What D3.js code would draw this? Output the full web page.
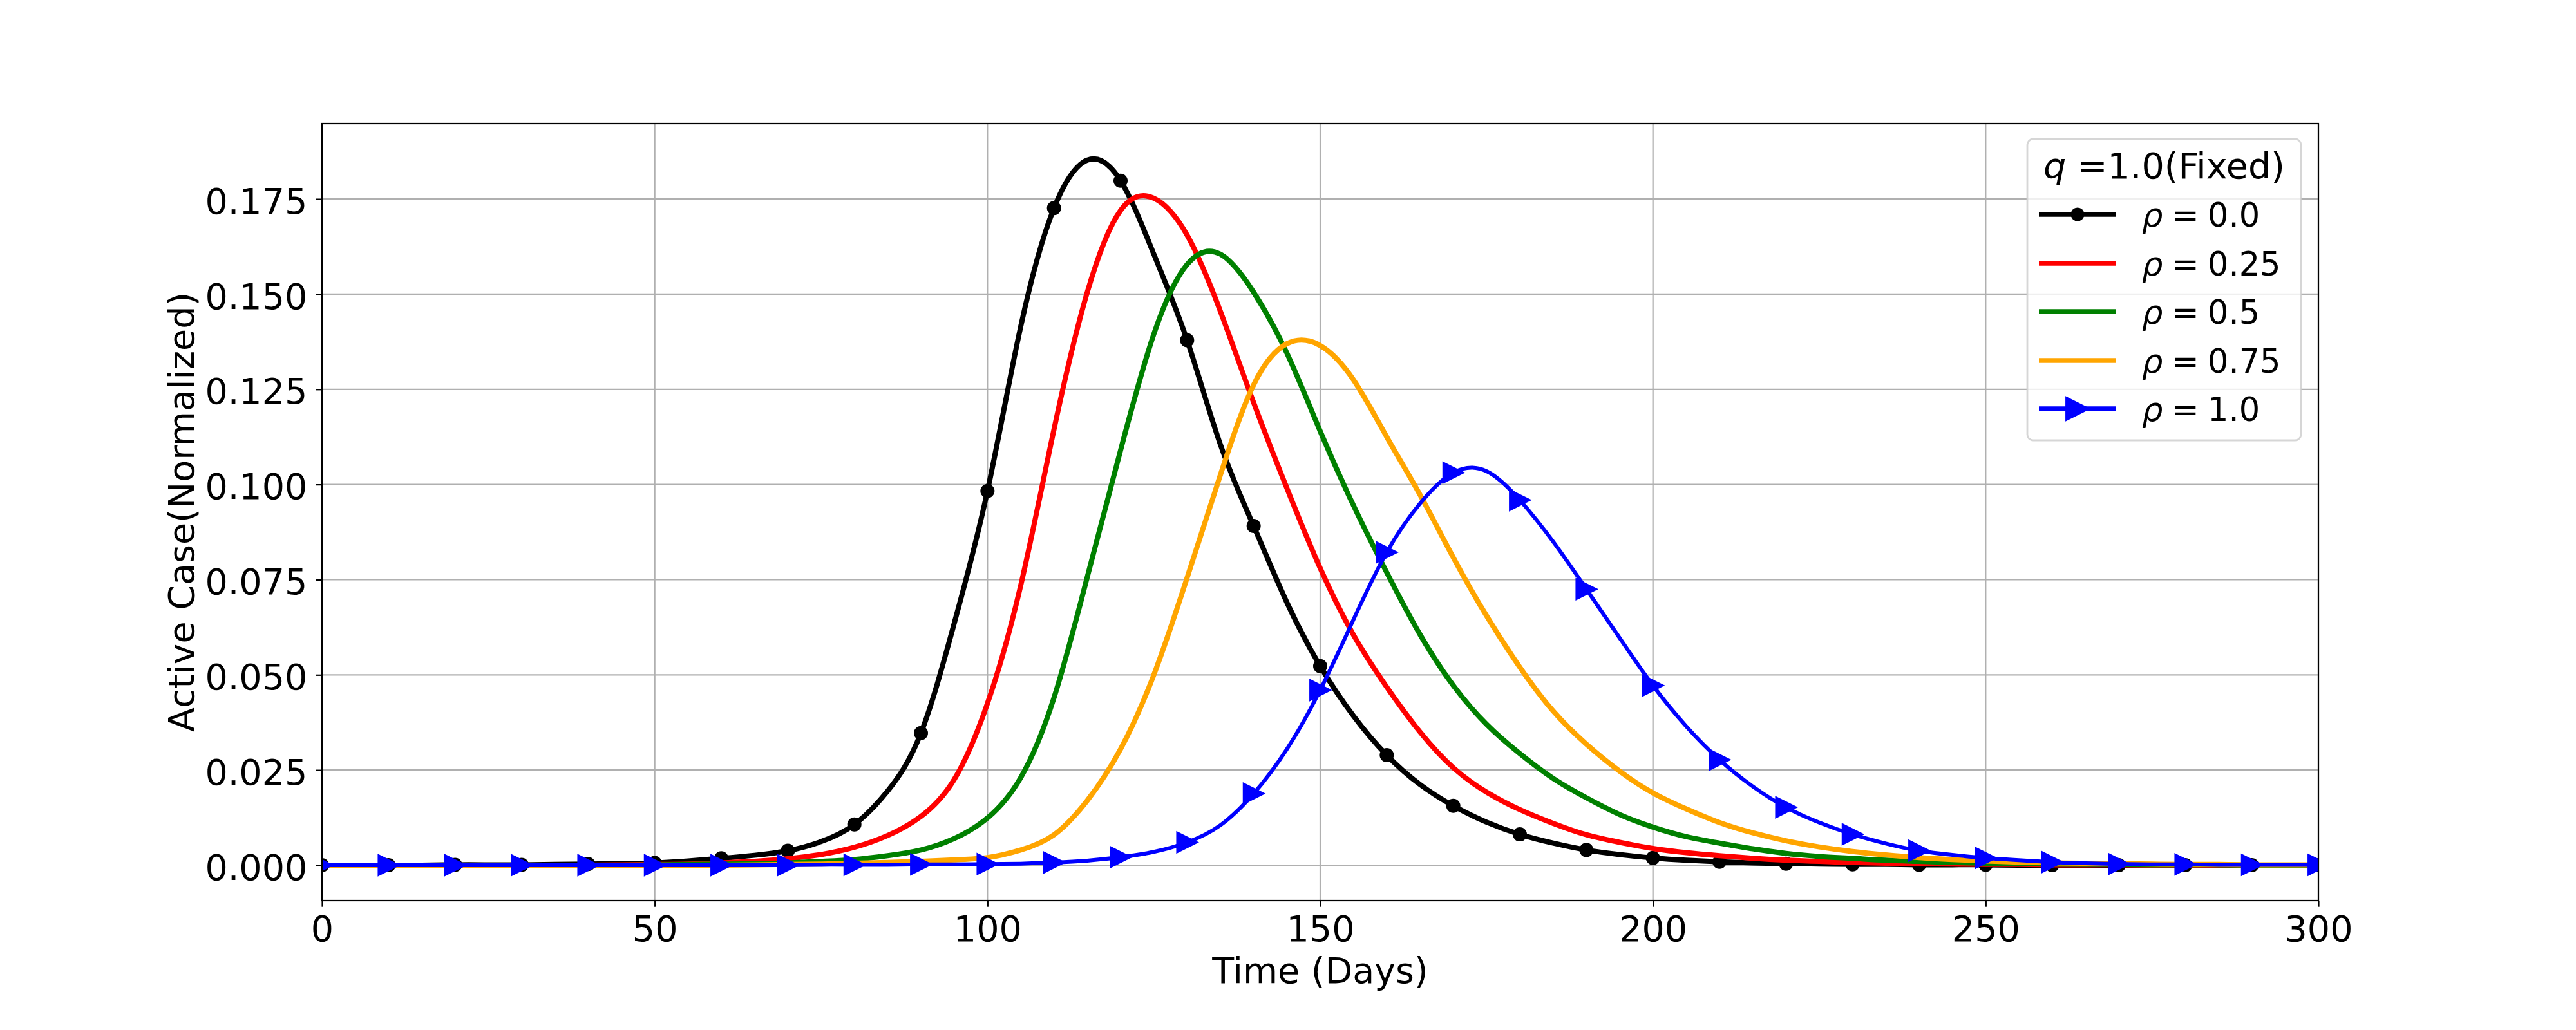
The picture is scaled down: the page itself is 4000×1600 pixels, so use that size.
<!DOCTYPE html>
<html>
<head>
<meta charset="utf-8">
<script src="https://cdn.jsdelivr.net/npm/d3@7"></script>
<style>
  body { margin: 0; background: #fff; }
  text { font-family: "DejaVu Sans", sans-serif; fill: #000; }
</style>
</head>
<body>
<div class="svg-container"></div>
<script>
// days sampled every 5 (markers every 10 days)
var days = [0,5,10,15,20,25,30,35,40,45,50,55,60,65,70,75,80,85,90,95,
  100,105,110,115,120,125,130,135,140,145,150,155,160,165,170,175,180,185,190,195,
  200,205,210,215,220,225,230,235,240,245,250,255,260,265,270,275,280,285,290,295,300];

var rho00 = [0,0,0,0,0.0001,0.0001,0.0001,0.0002,0.0003,0.0004,
  0.0006,0.0011,0.0018,0.0026,0.0038,0.0062,0.0107,0.0195,0.0347,0.0635,
  0.0983,0.1415,0.1726,0.1852,0.1798,0.1605,0.1379,0.1105,0.0891,0.0690,
  0.0523,0.0392,0.0289,0.0212,0.0156,0.0113,0.0081,0.0058,0.0040,0.0028,
  0.0019,0.0013,0.0009,0.0006,0.0004,0.0003,0.0002,0.0002,0.0001,0.0001,
  0.0001,0,0,0,0,0,0,0,0,0,0];

var rho025 = [0,0,0,0,0,0,0,0,0,0.0001,
  0.0002,0.0003,0.0006,0.0010,0.0017,0.0028,0.0047,0.0078,0.0128,0.0225,
  0.0425,0.0735,0.1145,0.1505,0.1720,0.1752,0.1655,0.1455,0.1215,0.0990,
  0.0780,0.0605,0.0468,0.0350,0.0256,0.0192,0.0146,0.0110,0.0080,0.0060,
  0.0044,0.0033,0.0025,0.0018,0.0013,0.0010,0.0007,0.0005,0.0004,0.0003,
  0.0002,0.0002,0.0001,0.0001,0.0001,0,0,0,0,0,0];

var rho05 = [0,0,0,0,0,0,0,0,0,0,
  0.0001,0.0002,0.0003,0.0004,0.0006,0.0010,0.0015,0.0025,0.0040,0.0070,
  0.0124,0.0230,0.0440,0.0757,0.1090,0.1395,0.1578,0.1605,0.1505,0.1345,
  0.1140,0.0945,0.0769,0.0606,0.0472,0.0370,0.0293,0.0228,0.0177,0.0133,
  0.0100,0.0075,0.0058,0.0043,0.0031,0.0023,0.0018,0.0013,0.0010,0.0007,
  0.0005,0.0004,0.0003,0.0002,0.0002,0.0001,0.0001,0.0001,0,0,0];

var rho075 = [0,0,0,0,0,0,0,0,0,0,
  0,0,0,0.0001,0.0002,0.0003,0.0005,0.0007,0.0010,0.0014,
  0.0020,0.0040,0.0080,0.0170,0.0305,0.0500,0.0755,0.1025,0.1262,0.1370,
  0.1365,0.1275,0.1125,0.0973,0.0808,0.0655,0.0520,0.0405,0.0318,0.0247,
  0.0190,0.0148,0.0112,0.0085,0.0064,0.0048,0.0036,0.0027,0.0020,0.0015,
  0.0011,0.0008,0.0006,0.0005,0.0004,0.0003,0.0002,0.0002,0.0001,0.0001,0.0001];

var rho10 = [0,0,0,0,0,0,0,0,0,0,
  0,0,0,0,0,0.0001,0.0001,0.0001,0.0002,0.0002,
  0.0003,0.0004,0.0007,0.0012,0.0021,0.0035,0.0060,0.0105,0.0188,0.0305,
  0.0460,0.0645,0.0822,0.0950,0.1031,0.1035,0.0959,0.0850,0.0725,0.0597,
  0.0472,0.0365,0.0277,0.0207,0.0152,0.0112,0.0081,0.0057,0.0038,0.0027,
  0.0019,0.0013,0.0008,0.0005,0.0003,0.0002,0.0002,0.0001,0.0001,0.0001,0.0001];

var seriesLabels = ["0.0", "0.25", "0.5", "0.75", "1.0"];
var seriesColors = ["black", "red", "green", "orange", "blue"];
var seriesMarkers = ["circle", "none", "none", "none", "triangle"];
var xTicks = [0, 50, 100, 150, 200, 250, 300];
var yTicks = [0, 0.025, 0.05, 0.075, 0.1, 0.125, 0.15, 0.175];
var legendTitle = "=1.0(Fixed)";

var series = [rho00, rho025, rho05, rho075, rho10];

var svgWidth = 4000, svgHeight = 1600;
var plotLeft = 500, plotRight = 3600, plotTop = 192, plotBottom = 1399;

var svg = d3.select(".svg-container").append("svg")
  .attr("width", svgWidth)
  .attr("height", svgHeight);

var x = d3.scaleLinear().domain([0, 300]).range([plotLeft, plotRight]);
var y = d3.scaleLinear().domain([-0.0093, 0.1948]).range([plotBottom, plotTop]);

svg.append("clipPath").attr("id", "plotclip")
  .append("rect")
    .attr("x", plotLeft).attr("y", plotTop)
    .attr("width", plotRight - plotLeft).attr("height", plotBottom - plotTop);

// grid
var grid = svg.append("g").attr("id", "grid");
grid.selectAll("line.gx").data(xTicks).enter().append("line")
  .attr("class", "gx")
  .attr("x1", function(d){ return x(d); })
  .attr("x2", function(d){ return x(d); })
  .attr("y1", plotTop).attr("y2", plotBottom)
  .attr("stroke", "#b0b0b0").attr("stroke-width", 2.2);
grid.selectAll("line.gy").data(yTicks).enter().append("line")
  .attr("class", "gy")
  .attr("y1", function(d){ return y(d); })
  .attr("y2", function(d){ return y(d); })
  .attr("x1", plotLeft).attr("x2", plotRight)
  .attr("stroke", "#b0b0b0").attr("stroke-width", 2.2);

var line = d3.line()
  .x(function(d){ return x(d[0]); })
  .y(function(d){ return y(d[1]); })
  .curve(d3.curveNatural);

var triPath = function(s) {
  var h = s / 2;
  return "M " + h + " 0 L " + (-h) + " " + (-h) + " L " + (-h) + " " + h + " Z";
};

var plot = svg.append("g").attr("clip-path", "url(#plotclip)");

series.forEach(function(vals, i) {
  var pts = days.map(function(d, j){ return [d, vals[j]]; });
  var g = plot.append("g");
  g.append("path")
    .datum(pts)
    .attr("d", line)
    .attr("fill", "none")
    .attr("stroke", seriesColors[i])
    .attr("stroke-width", i === 4 ? 6 : 8)
    .attr("stroke-linejoin", "round")
    .attr("stroke-linecap", "butt");

  var marked = pts.filter(function(p, j){ return j % 2 === 0; });
  if (seriesMarkers[i] === "circle") {
    g.selectAll("circle").data(marked).enter().append("circle")
      .attr("cx", function(d){ return x(d[0]); })
      .attr("cy", function(d){ return y(d[1]); })
      .attr("r", 10)
      .attr("fill", seriesColors[i])
      .attr("stroke", seriesColors[i])
      .attr("stroke-width", 2);
  } else if (seriesMarkers[i] === "triangle") {
    g.selectAll("path.mk").data(marked).enter().append("path")
      .attr("class", "mk")
      .attr("d", triPath(31))
      .attr("transform", function(d){ return "translate(" + x(d[0]) + "," + y(d[1]) + ")"; })
      .attr("fill", seriesColors[i])
      .attr("stroke", seriesColors[i])
      .attr("stroke-width", 2.8)
      .attr("stroke-linejoin", "miter");
  }
});

// axes
var xAxis = svg.append("g")
  .attr("transform", "translate(0," + plotBottom + ")")
  .call(d3.axisBottom(x).tickValues(xTicks).tickSize(9.7).tickPadding(14).tickFormat(d3.format("d")));
var yAxis = svg.append("g")
  .attr("transform", "translate(" + plotLeft + ",0)")
  .call(d3.axisLeft(y).tickValues(yTicks).tickSize(9.7).tickPadding(13).tickFormat(d3.format(".3f")));

[xAxis, yAxis].forEach(function(a) {
  a.select(".domain").remove();
  a.selectAll(".tick line").attr("stroke", "#000").attr("stroke-width", 2.2);
  a.selectAll(".tick text")
    .style("font-family", "DejaVu Sans")
    .style("font-size", "55.5px")
    .attr("fill", "#000");
});
yAxis.selectAll(".tick text").attr("dy", "0.4em");

// frame
svg.append("rect")
  .attr("x", plotLeft).attr("y", plotTop)
  .attr("width", plotRight - plotLeft).attr("height", plotBottom - plotTop)
  .attr("fill", "none")
  .attr("stroke", "#000")
  .attr("stroke-width", 2.2);

svg.append("text")
  .attr("x", (plotLeft + plotRight) / 2)
  .attr("y", 1527)
  .attr("text-anchor", "middle")
  .style("font-size", "55.5px")
  .text("Time (Days)");

svg.append("text")
  .attr("transform", "translate(301," + ((plotTop + plotBottom) / 2) + ") rotate(-90)")
  .attr("text-anchor", "middle")
  .style("font-size", "55.5px")
  .text("Active Case(Normalized)");

// legend
var lg = svg.append("g").attr("id", "legend");
var lx = 3148, ly = 216, lw = 425, lh = 468;
lg.append("rect")
  .attr("x", lx).attr("y", ly)
  .attr("width", lw).attr("height", lh)
  .attr("rx", 9).attr("ry", 9)
  .attr("fill", "white").attr("fill-opacity", 0.8)
  .attr("stroke", "#cccccc").attr("stroke-opacity", 0.8)
  .attr("stroke-width", 2.8);

var title = lg.append("text")
  .attr("x", lx + lw / 2)
  .attr("y", 277)
  .attr("text-anchor", "middle")
  .style("font-size", "55.5px");
title.append("tspan").style("font-style", "italic").text("q");
title.append("tspan").text(" " + legendTitle);

var rowY = [333, 409, 484, 560, 635];
seriesLabels.forEach(function(lab, i) {
  var cy = rowY[i];
  lg.append("line")
    .attr("x1", 3166).attr("x2", 3285)
    .attr("y1", cy).attr("y2", cy)
    .attr("stroke", seriesColors[i])
    .attr("stroke-width", 7.6);
  if (seriesMarkers[i] === "circle") {
    lg.append("circle")
      .attr("cx", 3226).attr("cy", cy).attr("r", 10.5)
      .attr("fill", seriesColors[i]);
  } else if (seriesMarkers[i] === "triangle") {
    lg.append("path")
      .attr("d", triPath(35))
      .attr("transform", "translate(3226," + cy + ")")
      .attr("fill", seriesColors[i])
      .attr("stroke", seriesColors[i])
      .attr("stroke-width", 2.8);
  }
  var t = lg.append("text")
    .attr("y", cy + 19)
    .style("font-size", "51px");
  t.append("tspan").attr("x", 3326).style("font-style", "italic").text("\u03C1");
  t.append("tspan").attr("x", 3372).text("=");
  t.append("tspan").attr("x", 3428).text(lab);
});
</script>
</body>
</html>
